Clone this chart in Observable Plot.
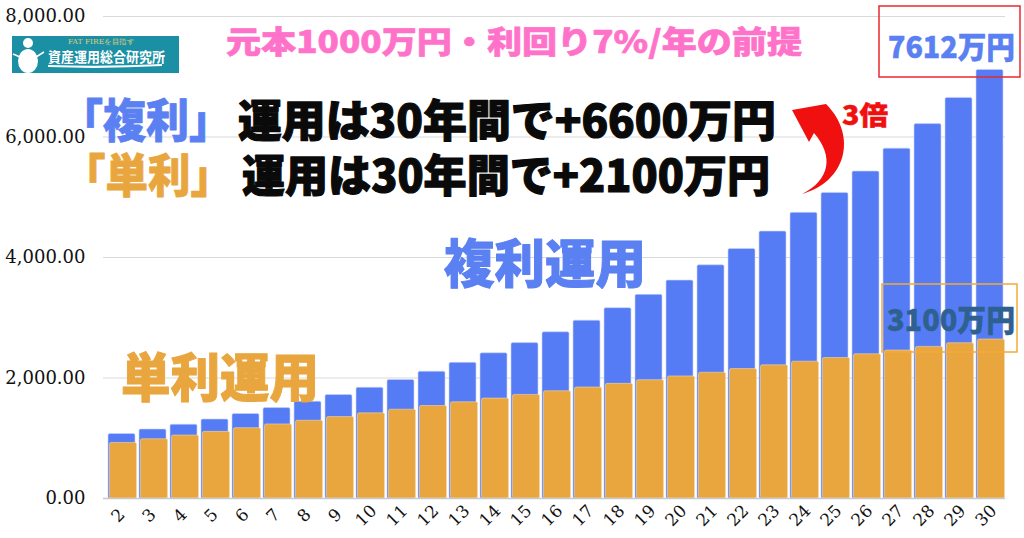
<!DOCTYPE html>
<html><head><meta charset="utf-8">
<script src="https://cdn.jsdelivr.net/npm/d3@7"></script>
<script src="https://cdn.jsdelivr.net/npm/@observablehq/plot@0.6"></script>
<style>
html,body{margin:0;padding:0;background:#fff;}
#chart{position:relative;width:1024px;height:538px;overflow:hidden;}
</style>
</head><body>
<div id="chart"></div>
<script>
// ---- data (in 万円) ----
const years = [2,3,4,5,6,7,8,9,10,11,12,13,14,15,16,17,18,19,20,21,22,23,24,25,26,27,28,29,30];
const compound = [1070,1145,1225,1311,1403,1501,1606,1718,1838,1967,2105,2252,2410,2579,2759,2952,3159,3380,3617,3870,4141,4430,4741,5072,5427,5807,6214,6649,7114];
const simple = [922,983,1045,1106,1167,1229,1290,1351,1413,1474,1535,1596,1658,1719,1780,1842,1903,1964,2026,2087,2148,2210,2271,2332,2393,2455,2516,2577,2639];
const yTicks = [0,2000,4000,6000,8000];

const compoundRows = years.map((y,i)=>({year:String(y), value:compound[i]}));
const simpleRows = years.map((y,i)=>({year:String(y), value:simple[i]}));

const BLUE = "#557cf4", ORANGE = "#e9a63e";
const JP = "'Noto Sans CJK JP', sans-serif";

const svg = Plot.plot({
  width: 1024, height: 538,
  marginLeft: 98, marginRight: 12, marginTop: 16, marginBottom: 40,
  style: {background: "#fff"},
  x: {type: "band", domain: years.map(String), padding: 0.13, axis: null},
  y: {domain: [0, 8000], axis: null},
  marks: [
    Plot.ruleY(yTicks.filter(d=>d>0), {stroke: "#d9d9d9", strokeWidth: 1.2, insetLeft: 5, insetRight: 7}),
    Plot.barY(compoundRows, {x: "year", y: "value", fill: BLUE, stroke: "#c9d3fb", strokeWidth: 0.6, rx: 1.5}),
    Plot.barY(simpleRows, {x: "year", y: "value", fill: ORANGE, stroke: "#f3d6a8", strokeWidth: 0.6, rx: 1.5, dx: 1.5}),
    Plot.ruleY([0], {stroke: "#c8c8c8", strokeWidth: 1.5, insetLeft: 5, insetRight: 7}),
    Plot.axisY(yTicks, {label: null, tickSize: 0, tickPadding: 13, tickFormat: d3.format(",.2f"), fontSize: 18, fontFamily: "'DejaVu Serif', serif", fill: "#111"}),
    Plot.text(years.map(String), {x: d=>d, frameAnchor: "bottom", dy: 21, rotate: -45, textAnchor: "middle", fontSize: 17, fontFamily: "'DejaVu Serif', serif", fill: "#111"})
  ]
});
document.getElementById("chart").appendChild(svg);

// ---- annotations ----
const g = d3.select(svg).append("g").attr("text-anchor", "start");
function txt(s, x, y, size, fill, len, extra={}) {
  const t = g.append("text").attr("x", x).attr("y", y).text(s)
    .attr("text-anchor", "start")
    .attr("font-family", extra.family || JP).attr("font-weight", extra.weight || 900)
    .attr("font-size", size).attr("fill", fill);
  if (len) t.attr("textLength", len).attr("lengthAdjust", "spacingAndGlyphs");
  if (extra.stroke) t.attr("stroke", fill).attr("stroke-width", extra.stroke).attr("stroke-linejoin", "round");
  return t;
}

// logo
g.append("rect").attr("x", 12).attr("y", 36).attr("width", 167).attr("height", 37).attr("fill", "#1b90a4");
g.append("circle").attr("cx", 28).attr("cy", 43).attr("r", 5).attr("fill", "#fff");
g.append("ellipse").attr("cx", 28).attr("cy", 61).attr("rx", 10).attr("ry", 12).attr("fill", "#fff");
g.append("path").attr("d", "M13 54 L20 57 M36 57 L44 52").attr("stroke", "#fff").attr("stroke-width", 1.5);
txt("FAT FIREを目指す", 68, 44, 7, "#e6cf7a", 66, {family: "'DejaVu Serif', serif", weight: 400});
txt("資産運用総合研究所", 48, 62, 14, "#fff", 117, {weight: 700});
g.append("path").attr("d", "M48 66 Q105 68 162 65").attr("stroke", "#fff").attr("stroke-width", 2.2).attr("fill", "none");

// pink title
txt("元本1000万円・利回り7%/年の前提", 226, 53, 31, "#ff72c9", 576, {stroke: 0.6});

// headline lines
txt("「複利」", 60, 137, 46, "#5a80f2", 172, {stroke: 0.8});
txt("運用は30年間で+6600万円", 238, 137, 44, "#0a0a0a", 538, {stroke: 1.2});
txt("「単利」", 63, 192, 46, ORANGE, 170, {stroke: 0.8});
txt("運用は30年間で+2100万円", 242, 192, 44, "#0a0a0a", 528, {stroke: 1.2});

// series labels
txt("複利運用", 444, 283, 52, "#5a80f2", 202, {stroke: 1});
txt("単利運用", 121, 397, 52, ORANGE, 198, {stroke: 1});

// boxed values
g.append("rect").attr("x", 879).attr("y", 6).attr("width", 141).attr("height", 71).attr("fill", "none").attr("stroke", "#e8282e").attr("stroke-width", 1.5);
txt("7612万円", 888, 58, 30, "#5a80f2", 127, {stroke: 0.5});
g.append("rect").attr("x", 882).attr("y", 284).attr("width", 135).attr("height", 68).attr("fill", "none").attr("stroke", "#f2aa3a").attr("stroke-width", 1.5);
txt("3100万円", 887, 331, 30, "#2e6190", 128, {stroke: 0.5});

// curved arrow + 3倍
g.append("path")
  .attr("d", "M802 194 C846 182 858 136 826 104 L792 110 L809 142 L814 133 C834 156 830 180 802 194 Z")
  .attr("fill", "#f01010");
txt("3倍", 842, 125, 26, "#f01010", 46, {stroke: 0.5});
</script>
</body></html>
